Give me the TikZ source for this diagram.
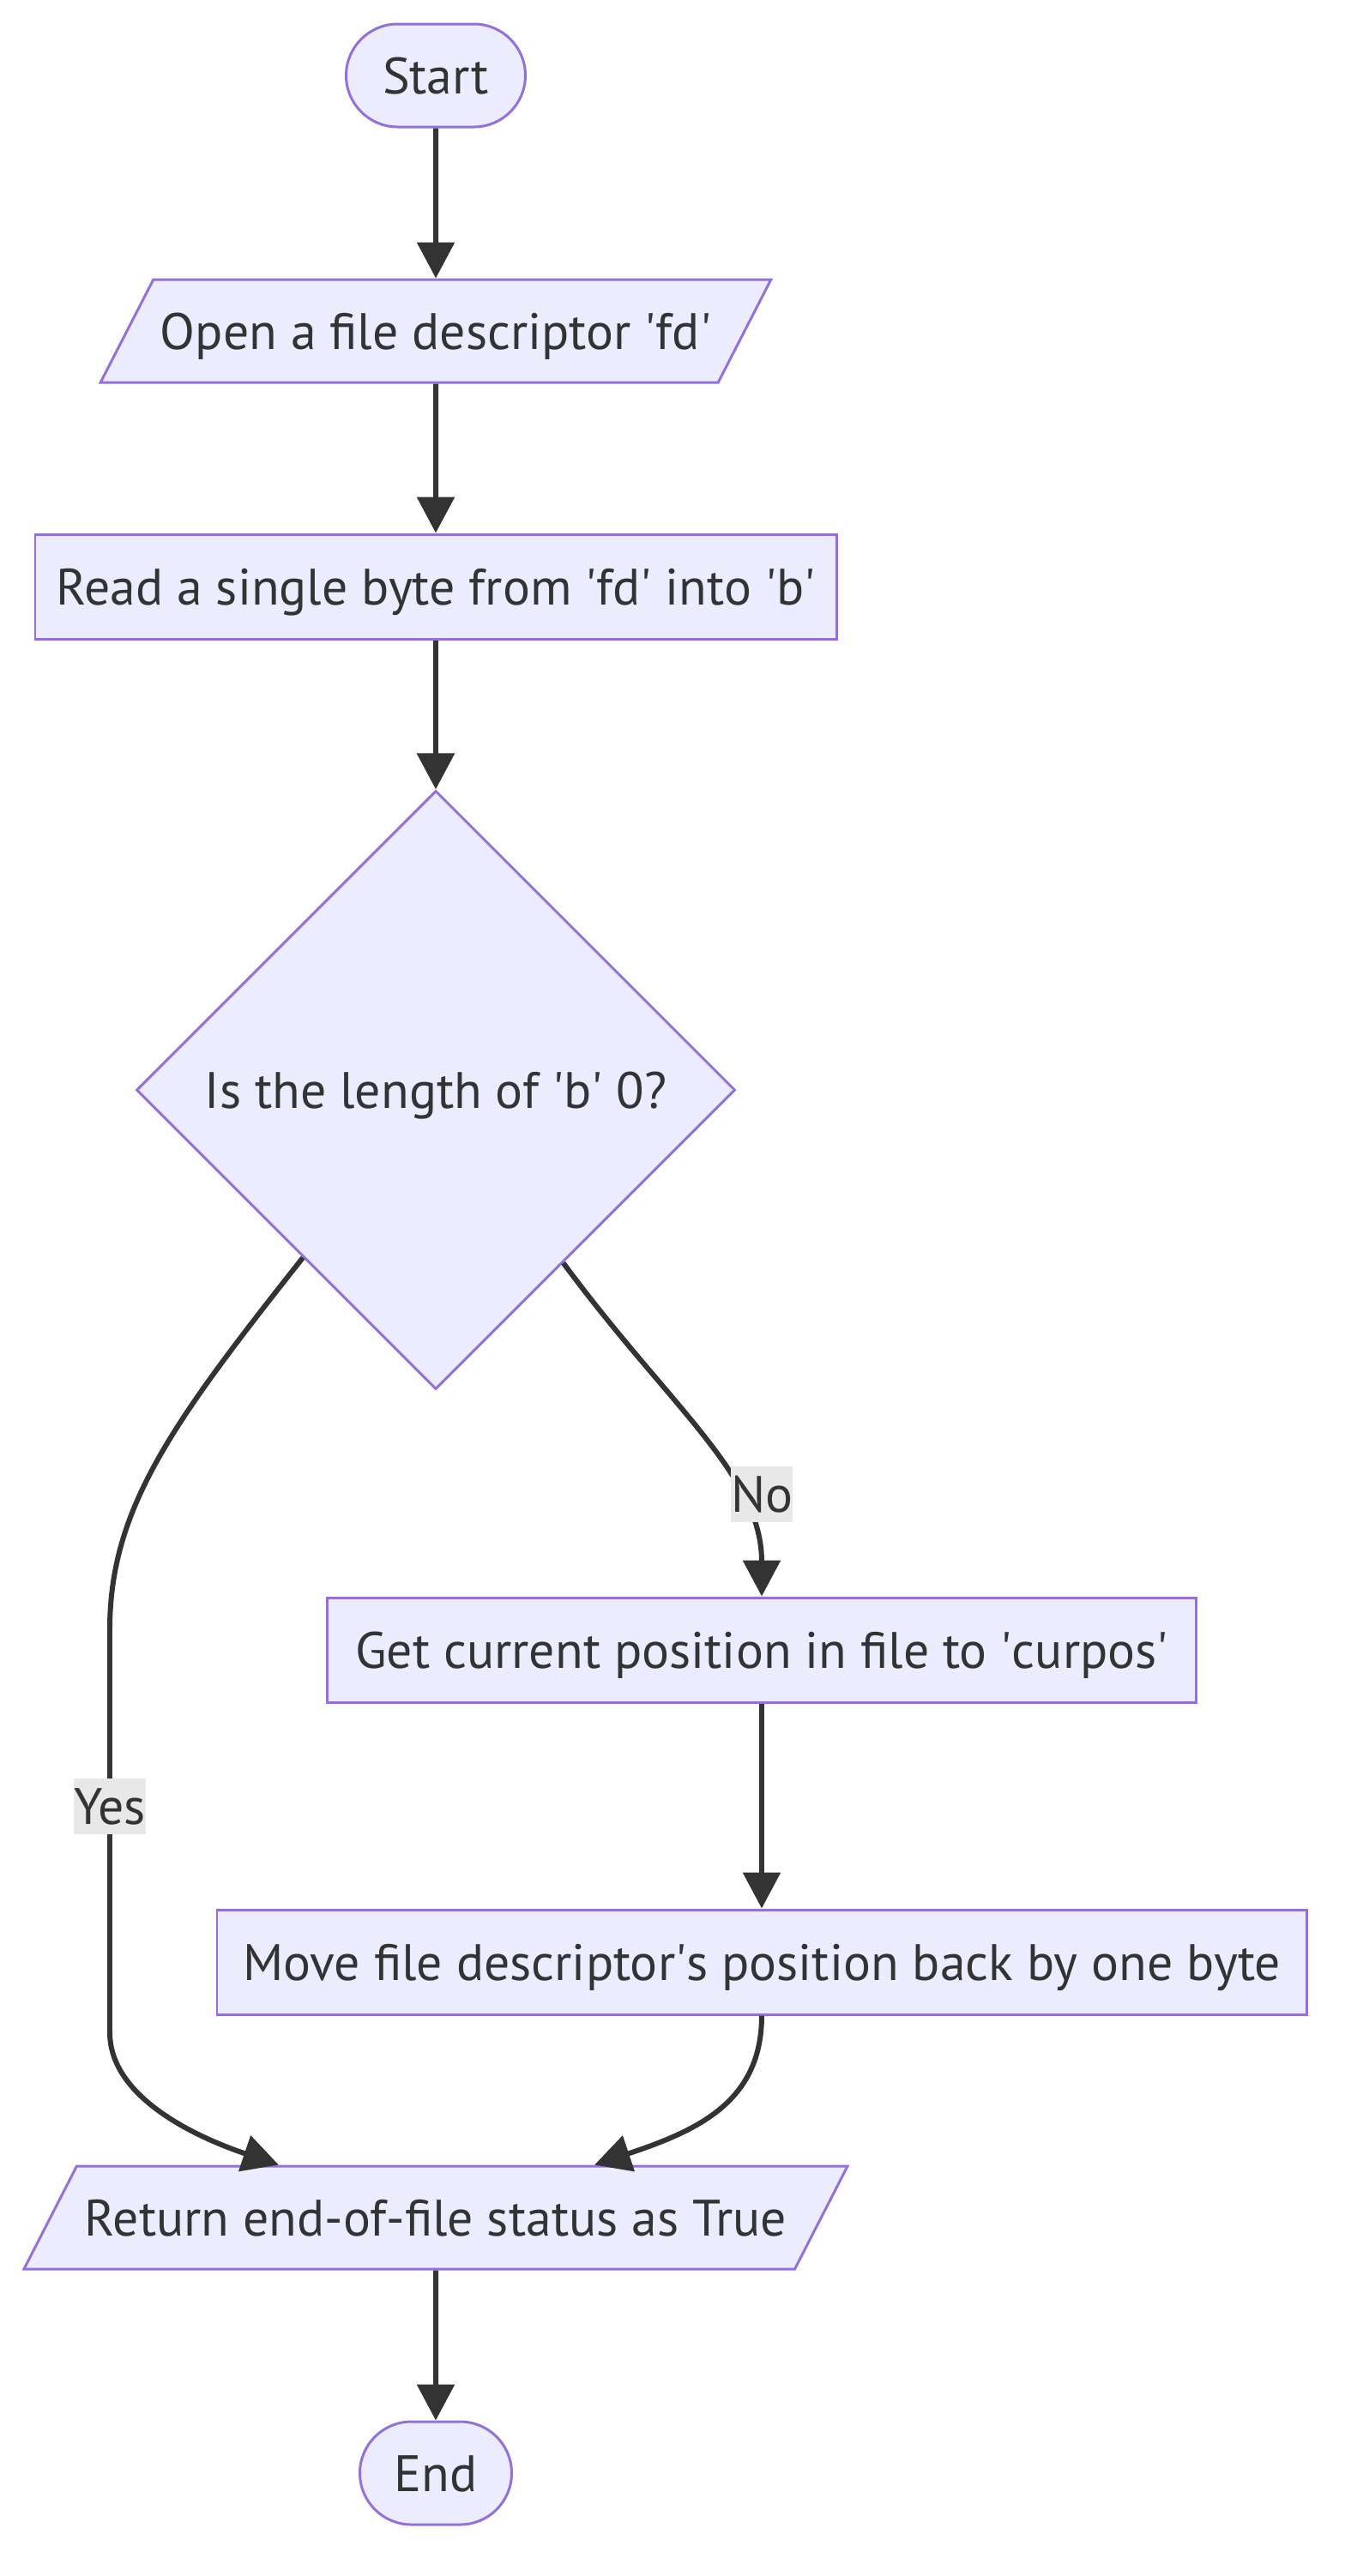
\documentclass[tikz,border=0pt]{standalone}
\usepackage{fontspec}
\setmainfont{PT Sans}
\usepackage{tikz}
\usetikzlibrary{
  arrows.meta,
  shapes.geometric,
  positioning
}
\definecolor{nodefill}{HTML}{ECECFF}
\definecolor{nodeline}{HTML}{9370DB}
\definecolor{ink}{HTML}{333333}
\definecolor{lblfill}{HTML}{E8E8E8}
\newcommand{\apos}{\textquotesingle}
\tikzset{
  every node/.style={font=\fontsize{17}{20}\selectfont, text=ink},
  chartbox/.style={
    draw=nodeline,
    fill=nodefill,
    line width=0.85pt,
    inner sep=0pt,
    text height=0.51cm,
    text depth=0.09cm,
    align=center
  },
  termbox/.style={chartbox, rectangle, rounded corners=0.6cm, minimum height=1.2cm},
  iobox/.style={
    chartbox,
    trapezium,
    trapezium left angle=63.4,
    trapezium right angle=116.6,
    trapezium stretches=true,
    inner ysep=0.3cm
  },
  stepbox/.style={chartbox, rectangle, minimum height=1.22cm},
  decbox/.style={chartbox, diamond, minimum width=6.98cm, minimum height=6.98cm},
  edgelbl/.style={fill=lblfill, inner sep=0pt, minimum height=0.65cm},
  arr/.style={-{Triangle[length=0.42cm,width=0.43cm]}, line width=1.7pt, draw=ink},
}

\begin{document}
\begin{tikzpicture}[x=1cm, y=1cm]

  \useasboundingbox (0,0) rectangle (15.68,-30.04);

  % =====================================================================
  % Main column
  % =====================================================================
  \node[termbox, minimum width=2.09cm] (start) at (5.08, -0.88) {Start};
  \node[iobox, minimum width=7.82cm] (open) at (5.08, -3.86)
    {Open a file descriptor \apos fd\apos};
  \node[stepbox, minimum width=9.34cm] (read) at (5.08, -6.84)
    {Read a single byte from \apos fd\apos{} into \apos b\apos};
  \node[decbox] (cond) at (5.08, -12.71) {Is the length of \apos b\apos{} 0?};

  % =====================================================================
  % "No" branch
  % =====================================================================
  \node[stepbox, minimum width=10.13cm] (getpos) at (8.88, -19.24)
    {Get current position in file to \apos curpos\apos};
  \node[stepbox, minimum width=12.70cm] (moveback) at (8.88, -22.88)
    {Move file descriptor\apos s position back by one byte};

  % =====================================================================
  % Exit
  % =====================================================================
  \node[iobox, minimum width=9.62cm] (ret) at (5.08, -25.86)
    {Return end-of-file status as True};
  \node[termbox, minimum width=1.77cm] (stop) at (5.08, -28.84) {End};

  % Straight links
  \draw[arr] (start) -- (open);
  \draw[arr] (open) -- (read);
  \draw[arr] (read) -- (cond);
  \draw[arr] (getpos) -- (moveback);
  \draw[arr] (ret) -- (stop);

  % Decision branches
  \draw[arr]
    (cond) .. controls (7.80, -16.40) and (8.88, -17.20) .. (getpos)
    node[edgelbl, pos=0.7, xshift=0.27cm, yshift=0.04cm] {No};
  \draw[arr]
    (cond) .. controls (2.00, -16.60) and (1.28, -17.60) .. (1.28, -19.00)
    -- (1.28, -23.70) node[edgelbl, pos=0.44] {Yes}
    .. controls (1.28, -24.50) and (2.40, -24.96) .. (ret);
  \draw[arr]
    (moveback) .. controls (8.88, -24.50) and (8.15, -24.84) .. (ret);

\end{tikzpicture}
\end{document}
